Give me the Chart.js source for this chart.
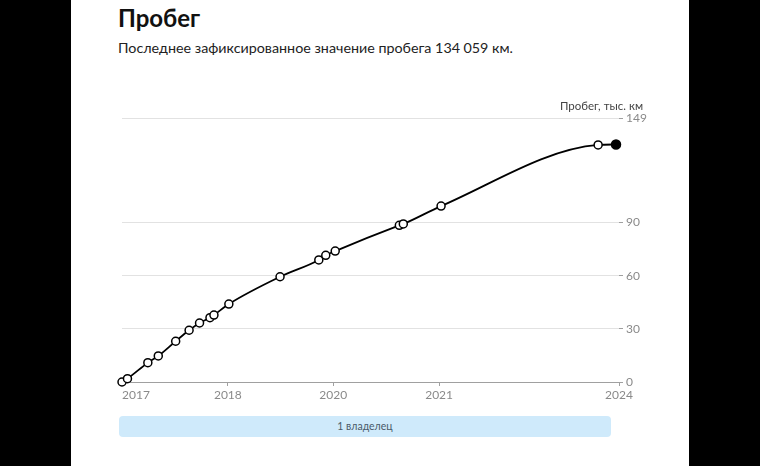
<!DOCTYPE html>
<html>
<head>
<meta charset="utf-8">
<script src="https://cdn.jsdelivr.net/npm/chart.js@4"></script>
<style>
    body { margin: 0; background: #000; font-family: Lato, "Noto Sans", sans-serif; }
    #page { position: relative; width: 760px; height: 466px; overflow: hidden; }
    #panel { position: absolute; left: 71px; top: 0; width: 618px; height: 466px; background: #fff; }
    h1 { position: absolute; left: 118px; top: 3px; margin: 0; font-size: 24px; font-weight: 700; color: #111; }
    .subtitle { position: absolute; left: 118px; top: 39px; margin: 0; font-size: 14.3px; color: #222; }
    .owners { position: absolute; left: 119px; top: 416px; width: 492px; height: 21px; border-radius: 4px;
              background: #cfeafb; color: #4a5a6a; font-size: 10.5px; line-height: 21px; text-align: center; }
    canvas { position: absolute; left: 0; top: 0; }
</style>
</head>
<body>
<div id="page">
    <div id="panel"></div>
    <h1>Пробег</h1>
    <p class="subtitle">Последнее зафиксированное значение пробега 134&#8239;059&#8239;км.</p>
    <div class="owners">1 владелец</div>
    <canvas id="mileageChart" width="760" height="466"></canvas>
</div>
<script>
// позиция на шкале времени (0..100) и пробег, тыс. км
const timeline = [0, 1.1, 5.2, 7.3, 10.8, 13.5, 15.6, 17.7, 18.5, 21.5, 31.8, 39.6, 41.0, 42.9, 55.8, 56.6, 64.2, 95.8, 99.4];
const mileage = [0, 1.9, 10.9, 14.7, 23.0, 29.2, 33.3, 36.3, 37.8, 44.0, 59.4, 68.9, 71.5, 73.9, 88.4, 89.2, 99.3, 133.8, 134.059];

const xTickPos = [0, 21.3, 42.5, 63.8, 100];
const xTickLabels = ['2017', '2018', '2020', '2021', '2024'];
const yTicks = [0, 30, 60, 90, 149];

const points = timeline.map((t, i) => ({ x: t, y: mileage[i] }));
const last = points.length - 1;

// подписи оси X: первая прижата влево, остальные по центру
const xLabelsPlugin = {
    id: 'xLabels',
    afterDraw(chart) {
        const ctx = chart.ctx;
        const scale = chart.scales.x;
        ctx.save();
        ctx.font = '12px Lato, "Noto Sans", sans-serif';
        ctx.fillStyle = '#8a8a8a';
        ctx.textBaseline = 'middle';
        xTickPos.forEach((v, i) => {
            ctx.textAlign = i === 0 ? 'left' : 'center';
            ctx.fillText(xTickLabels[i], scale.getPixelForValue(v), scale.top + 13);
        });
        // подпись оси Y
        ctx.font = '11.5px Lato, "Noto Sans", sans-serif';
        ctx.fillStyle = '#444';
        ctx.textAlign = 'right';
        ctx.fillText('Пробег, тыс. км', chart.chartArea.right + 24, chart.chartArea.top - 12);
        ctx.restore();
    }
};

new Chart(document.getElementById('mileageChart'), {
    type: 'line',
    data: {
        datasets: [{
            data: points,
            borderColor: '#000',
            borderWidth: 1.8,
            cubicInterpolationMode: 'monotone',
            pointRadius: points.map((p, i) => i === last ? 4.5 : 4),
            pointBackgroundColor: points.map((p, i) => i === last ? '#000' : '#fff'),
            pointBorderColor: '#000',
            pointBorderWidth: 1.5,
            clip: false
        }]
    },
    options: {
        responsive: false,
        animation: false,
        layout: { padding: { left: 122, top: 118, right: 0, bottom: 0 } },
        plugins: { legend: { display: false }, tooltip: { enabled: false } },
        scales: {
            x: {
                type: 'linear',
                min: 0,
                max: 100,
                afterBuildTicks: scale => { scale.ticks = xTickPos.map(v => ({ value: v })); },
                afterFit: scale => { scale.height = 84; },
                ticks: { display: false },
                grid: { drawOnChartArea: false, drawTicks: true, tickLength: 4, color: '#a0a0a0' },
                border: { display: true, color: '#a0a0a0', width: 1 }
            },
            y: {
                position: 'right',
                min: 0,
                max: 149,
                afterBuildTicks: scale => { scale.ticks = yTicks.map(v => ({ value: v })); },
                afterFit: scale => { scale.width = 141; },
                ticks: {
                    padding: 3,
                    color: '#8a8a8a',
                    font: { family: 'Lato, "Noto Sans", sans-serif', size: 12 }
                },
                grid: { color: '#e2e2e2', tickColor: '#a0a0a0', tickLength: 4 },
                border: { display: false }
            }
        }
    },
    plugins: [xLabelsPlugin]
});
</script>
</body>
</html>
